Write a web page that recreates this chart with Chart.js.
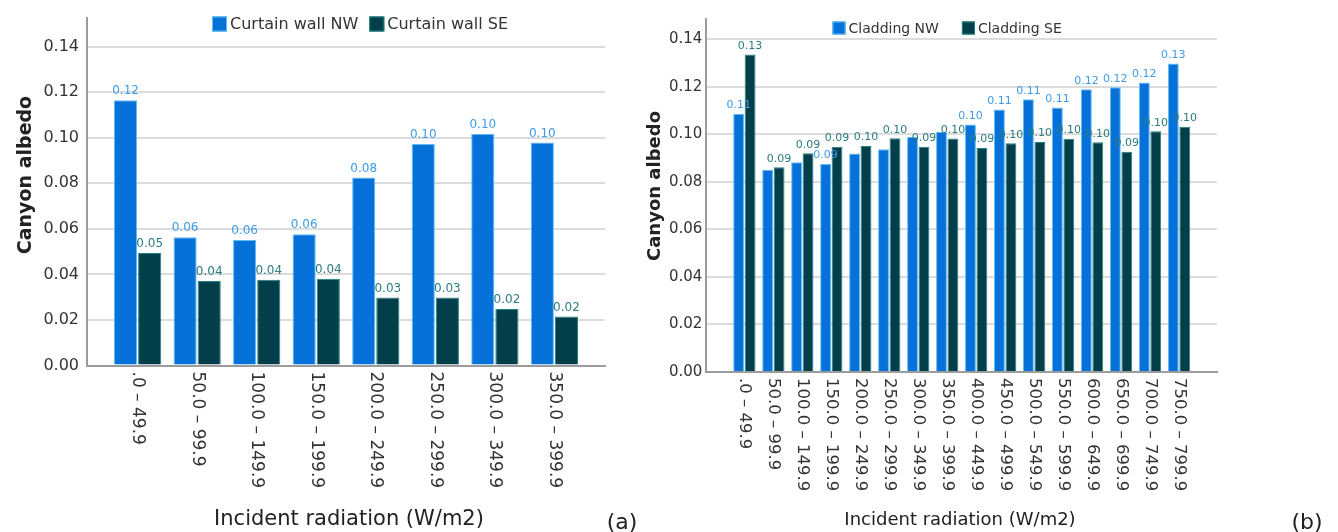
<!DOCTYPE html>
<html>
<head>
<meta charset="utf-8">
<script src="https://cdn.jsdelivr.net/npm/chart.js@4.4.1/dist/chart.umd.min.js"></script>
<style>
  body { margin: 0; background: #fff; }
  #wrap { position: relative; width: 1338px; height: 532px; overflow: hidden; }
  #chartA { position: absolute; left: 0; top: 0; }
  #chartB { position: absolute; left: 640px; top: 0; }
</style>
</head>
<body>
<div id="wrap">
  <canvas id="chartA" width="640" height="532"></canvas>
  <canvas id="chartB" width="698" height="532"></canvas>
</div>
<script>
// Data (a): curtain wall
const categoriesA = ['.0 – 49.9', '50.0 – 99.9', '100.0 – 149.9', '150.0 – 199.9',
    '200.0 – 249.9', '250.0 – 299.9', '300.0 – 349.9', '350.0 – 399.9'];
const curtainNW = [0.1164, 0.0563, 0.0551, 0.0576, 0.0825, 0.0972, 0.1017, 0.0979];
const curtainSE = [0.0494, 0.0371, 0.0376, 0.0381, 0.0299, 0.0299, 0.0248, 0.0215];

// Data (b): cladding
const categoriesB = ['.0 – 49.9', '50.0 – 99.9', '100.0 – 149.9', '150.0 – 199.9',
    '200.0 – 249.9', '250.0 – 299.9', '300.0 – 349.9', '350.0 – 399.9',
    '400.0 – 449.9', '450.0 – 499.9', '500.0 – 549.9', '550.0 – 599.9',
    '600.0 – 649.9', '650.0 – 699.9', '700.0 – 749.9', '750.0 – 799.9'];
const claddingNW = [0.1087, 0.0851, 0.0883, 0.0875, 0.0919, 0.0937, 0.0989, 0.1011,
    0.1041, 0.1104, 0.1148, 0.1113, 0.1190, 0.1198, 0.1218, 0.1298];
const claddingSE = [0.1336, 0.0861, 0.0920, 0.0948, 0.0951, 0.0983, 0.0948, 0.0982,
    0.0943, 0.0962, 0.0968, 0.0981, 0.0967, 0.0927, 0.1013, 0.1032];

const yTickStep = 0.02;

const NW_FILL = '#0672d9';
const NW_EDGE = '#5fbdf7';
const SE_FILL = '#033f4b';
const SE_EDGE = '#1f8284';
const GRID = '#dcdcdc';
const AXIS = '#9c9c9c';
const TEXT = '#333333';

Chart.defaults.font.family = "'DejaVu Sans', sans-serif";
Chart.defaults.color = TEXT;

function toPoints(values) {
    return values.map((v, i) => ({ x: i, y: v }));
}

// Draws value labels, clockwise x labels, legend, axis titles
const extraText = {
    id: 'extraText',
    afterDatasetsDraw(chart, args, o) {
        const ctx = chart.ctx;
        const nwMeta = chart.getDatasetMeta(0);
        const seMeta = chart.getDatasetMeta(1);
        const nwData = chart.data.datasets[0].data;
        const seData = chart.data.datasets[1].data;
        ctx.save();
        ctx.font = o.valueFont;
        ctx.textAlign = 'center';
        ctx.textBaseline = 'bottom';
        seMeta.data.forEach((seBar, i) => {
            const nwBar = nwMeta.data[i];
            ctx.fillStyle = o.seLabel;
            ctx.fillText(seData[i].y.toFixed(2), seBar.x, seBar.y - 3);
            // hide NW label when it would sit on top of the SE one
            if (Math.abs(nwBar.y - seBar.y) >= 12) {
                ctx.fillStyle = o.nwLabel;
                ctx.fillText(nwData[i].y.toFixed(2), nwBar.x, nwBar.y - 3);
            }
        });
        ctx.restore();
    },
    afterDraw(chart, args, o) {
        const ctx = chart.ctx;
        const area = chart.chartArea;
        const xScale = chart.scales.x;
        ctx.save();

        // x tick labels, reading top to bottom
        ctx.font = o.tickFont;
        ctx.fillStyle = TEXT;
        ctx.textAlign = 'left';
        ctx.textBaseline = 'middle';
        chart.data.labels.forEach((lab, i) => {
            ctx.save();
            ctx.translate(xScale.getPixelForValue(i), area.bottom + 6);
            ctx.rotate(Math.PI / 2);
            ctx.fillText(lab, 0, 0);
            ctx.restore();
        });

        // legend
        ctx.font = o.legendFont;
        ctx.textBaseline = 'middle';
        let lx = o.legendX;
        chart.data.datasets.forEach(ds => {
            ctx.fillStyle = ds.backgroundColor;
            ctx.fillRect(lx, o.legendY - o.box / 2, o.box, o.box);
            ctx.strokeStyle = ds.borderColor;
            ctx.lineWidth = 1;
            ctx.strokeRect(lx + 0.5, o.legendY - o.box / 2 + 0.5, o.box - 1, o.box - 1);
            lx += o.box + 3;
            ctx.fillStyle = TEXT;
            ctx.fillText(ds.label, lx, o.legendY + 1);
            lx += ctx.measureText(ds.label).width + o.legendGap;
        });

        // axis titles
        ctx.fillStyle = '#222';
        ctx.textAlign = 'center';
        ctx.font = o.xTitleFont;
        ctx.fillText('Incident radiation (W/m2)', o.xTitleX, o.xTitleY);
        ctx.font = o.tagFont;
        ctx.fillText(o.tag, o.tagX, o.tagY);
        ctx.save();
        ctx.translate(o.yTitleX, o.yTitleY);
        ctx.rotate(-Math.PI / 2);
        ctx.font = o.yTitleFont;
        ctx.fillText('Canyon albedo', 0, 0);
        ctx.restore();

        ctx.restore();
    }
};

function makeChart(id, labels, nw, se, names, s) {
    const ctx = document.getElementById(id).getContext('2d');
    return new Chart(ctx, {
        type: 'bar',
        data: {
            labels: labels,
            datasets: [
                { label: names[0], data: toPoints(nw), backgroundColor: NW_FILL, borderColor: NW_EDGE, borderWidth: 1 },
                { label: names[1], data: toPoints(se), backgroundColor: SE_FILL, borderColor: SE_EDGE, borderWidth: 1 }
            ]
        },
        options: {
            responsive: false,
            animation: false,
            datasets: { bar: { categoryPercentage: s.catPct, barPercentage: s.barPct } },
            layout: { padding: { left: 0, right: s.padRight, top: s.padTop, bottom: 0 } },
            plugins: {
                legend: { display: false },
                tooltip: { enabled: false },
                extraText: s.text
            },
            scales: {
                x: {
                    type: 'linear',
                    bounds: 'data',
                    offset: false,
                    min: s.xMin,
                    max: labels.length - 1 - s.xMin,
                    grid: { display: false },
                    border: { color: AXIS, width: 2 },
                    ticks: { display: false },
                    // one tick per category, so bar width follows the category spacing
                    afterBuildTicks: sc => { sc.ticks = labels.map((l, i) => ({ value: i })); },
                    afterFit: sc => { sc.height = s.xHeight; }
                },
                y: {
                    bounds: 'data',
                    min: 0,
                    max: s.yMax,
                    grid: { color: GRID, lineWidth: 2, drawTicks: false },
                    border: { color: AXIS, width: 2 },
                    ticks: {
                        stepSize: yTickStep,
                        includeBounds: false,
                        padding: s.tickPad,
                        font: { size: s.yTickSize },
                        color: TEXT,
                        callback: v => v.toFixed(2)
                    },
                    afterFit: sc => { sc.width = s.yWidth; }
                }
            }
        },
        plugins: [extraText]
    });
}

window.onload = function() {
    makeChart('chartA', categoriesA, curtainNW, curtainSE, ['Curtain wall NW', 'Curtain wall SE'], {
        catPct: 0.81, barPct: 0.96, padRight: 35, padTop: 8, xMin: -0.85,
        xHeight: 166.5, yMax: 0.1527, yWidth: 87, tickPad: 8, yTickSize: 16,
        text: {
            valueFont: "12px 'DejaVu Sans'", nwLabel: '#3d9be9', seLabel: '#2b7b7e',
            tickFont: "17px 'DejaVu Sans'", legendFont: "16px 'DejaVu Sans'",
            legendX: 212, legendY: 24, box: 15, legendGap: 11,
            xTitleFont: "21px 'DejaVu Sans'", xTitleX: 349, xTitleY: 520,
            yTitleFont: "bold 19px 'DejaVu Sans'", yTitleX: 26, yTitleY: 175,
            tagFont: "22px 'DejaVu Sans'", tag: '(a)', tagX: 622, tagY: 523
        }
    });
    makeChart('chartB', categoriesB, claddingNW, claddingSE, ['Cladding NW', 'Cladding SE'], {
        catPct: 0.79, barPct: 0.95, padRight: 121, padTop: 19.3, xMin: -1.31,
        xHeight: 160, yMax: 0.1484, yWidth: 66.4, tickPad: 4, yTickSize: 15,
        text: {
            valueFont: "11px 'DejaVu Sans'", nwLabel: '#3d9be9', seLabel: '#2b7b7e',
            tickFont: "16.5px 'DejaVu Sans'", legendFont: "14px 'DejaVu Sans'",
            legendX: 192.5, legendY: 28, box: 13, legendGap: 23,
            xTitleFont: "18px 'DejaVu Sans'", xTitleX: 320, xTitleY: 520,
            yTitleFont: "bold 18px 'DejaVu Sans'", yTitleX: 15, yTitleY: 186,
            tagFont: "22px 'DejaVu Sans'", tag: '(b)', tagX: 667, tagY: 523
        }
    });
};
</script>
</body>
</html>
